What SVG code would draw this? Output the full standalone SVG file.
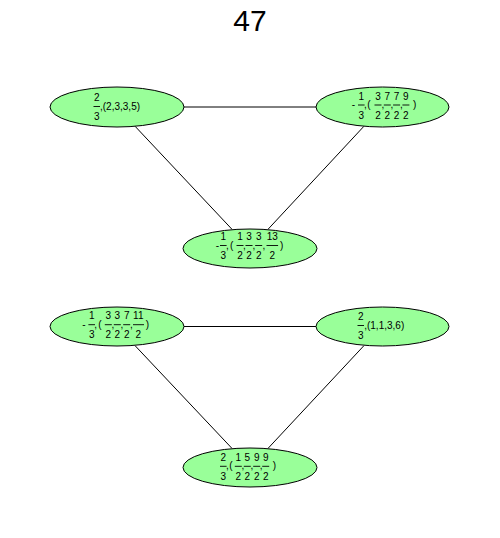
<svg xmlns="http://www.w3.org/2000/svg" width="500" height="538" viewBox="0 0 500 538">
<style>
.node ellipse{fill:#99ff99;stroke:#000;stroke-width:1}
text{font-family:"Liberation Sans",Arial,sans-serif;font-size:10px;fill:#000}
.c{text-anchor:middle}
.bar{stroke:#000;stroke-width:0.9;fill:none}
.edge{stroke:#000;stroke-width:1;fill:none}
.title{font-size:30px;text-anchor:middle}
</style>
<rect width="500" height="538" fill="#fff"/>
<text class="title" x="250" y="31">47</text>
<g id="edges">
<path class="edge" d="M184 107H316"/>
<path class="edge" d="M135.1 126.3L231.9 229.2"/>
<path class="edge" d="M363.9 126.3L268.1 229.2"/>
<path class="edge" d="M184 326.5H316"/>
<path class="edge" d="M135.1 345.7L231.9 448.3"/>
<path class="edge" d="M363.9 345.7L268.1 448.3"/>
</g>
<g id="n1" class="node">
<ellipse cx="117" cy="107" rx="67" ry="20"/>
<text class="c" x="96.7" y="101">2</text>
<path class="bar" d="M93.5 106.5H100"/>
<text class="c" x="96.7" y="120">3</text>
<text x="100" y="109.5">,(2,3,3,5)</text>
</g>
<g id="n2" class="node">
<ellipse cx="382.5" cy="107" rx="66.5" ry="20"/>
<text class="c" x="353.3" y="108">-</text>
<text class="c" x="361.3" y="99.5">1</text><path class="bar" d="M358 105H364.6"/><text class="c" x="361.3" y="118.5">3</text>
<text class="c" x="365.3" y="108">,</text><text class="c" x="369" y="108">(</text>
<text class="c" x="378" y="99.5">3</text><path class="bar" d="M374.5 105H381.5"/><text class="c" x="378" y="118.5">2</text>
<text class="c" x="382.8" y="108">,</text>
<text class="c" x="387.3" y="99.5">7</text><path class="bar" d="M383.8 105H390.8"/><text class="c" x="387.3" y="118.5">2</text>
<text class="c" x="392" y="108">,</text>
<text class="c" x="396.6" y="99.5">7</text><path class="bar" d="M393.1 105H400.1"/><text class="c" x="396.6" y="118.5">2</text>
<text class="c" x="401.3" y="108">,</text>
<text class="c" x="405.9" y="99.5">9</text><path class="bar" d="M402.4 105H409.4"/><text class="c" x="405.9" y="118.5">2</text>
<text class="c" x="414.7" y="108">)</text>
</g>
<g id="n3" class="node">
<ellipse cx="250" cy="248.5" rx="67" ry="19.5"/>
<text class="c" x="217.3" y="248.5">-</text>
<text class="c" x="223.3" y="240">1</text><path class="bar" d="M220 245.5H226.6"/><text class="c" x="223.3" y="259">3</text>
<text class="c" x="227.3" y="248.5">,</text><text class="c" x="231.7" y="248.5">(</text>
<text class="c" x="240" y="240">1</text><path class="bar" d="M236.5 245.5H243.5"/><text class="c" x="240" y="259">2</text>
<text class="c" x="244.5" y="248.5">,</text>
<text class="c" x="249" y="240">3</text><path class="bar" d="M245.5 245.5H252.5"/><text class="c" x="249" y="259">2</text>
<text class="c" x="254" y="248.5">,</text>
<text class="c" x="258.7" y="240">3</text><path class="bar" d="M255.2 245.5H262.2"/><text class="c" x="258.7" y="259">2</text>
<text class="c" x="264" y="248.5">,</text>
<text class="c" x="272.3" y="240">13</text><path class="bar" d="M266.5 245.5H278.1"/><text class="c" x="272.3" y="259">2</text>
<text class="c" x="281.7" y="248.5">)</text>
</g>
<g id="n4" class="node">
<ellipse cx="117" cy="326.5" rx="67" ry="19.5"/>
<text class="c" x="84" y="328">-</text>
<text class="c" x="91.7" y="319.2">1</text><path class="bar" d="M88.4 324.7H95"/><text class="c" x="91.7" y="338.2">3</text>
<text class="c" x="95.7" y="328">,</text><text class="c" x="100" y="328">(</text>
<text class="c" x="108.3" y="319.2">3</text><path class="bar" d="M104.8 324.7H111.8"/><text class="c" x="108.3" y="338.2">2</text>
<text class="c" x="112.8" y="328">,</text>
<text class="c" x="117.3" y="319.2">3</text><path class="bar" d="M113.8 324.7H120.8"/><text class="c" x="117.3" y="338.2">2</text>
<text class="c" x="122" y="328">,</text>
<text class="c" x="126.7" y="319.2">7</text><path class="bar" d="M123.2 324.7H130.2"/><text class="c" x="126.7" y="338.2">2</text>
<text class="c" x="131.5" y="328">,</text>
<text class="c" x="138.3" y="319.2">11</text><path class="bar" d="M133 324.7H144"/><text class="c" x="138.3" y="338.2">2</text>
<text class="c" x="147.5" y="328">)</text>
</g>
<g id="n5" class="node">
<ellipse cx="382.5" cy="326.5" rx="66.5" ry="19.5"/>
<text class="c" x="360.7" y="320">2</text>
<path class="bar" d="M357.5 325.5H364"/>
<text class="c" x="360.7" y="339">3</text>
<text x="364.2" y="328.5">,(1,1,3,6)</text>
</g>
<g id="n6" class="node">
<ellipse cx="250" cy="467.5" rx="67" ry="19.5"/>
<text class="c" x="223.3" y="460.8">2</text><path class="bar" d="M220 466.3H226.6"/><text class="c" x="223.3" y="479.8">3</text>
<text class="c" x="227.3" y="469.3">,</text><text class="c" x="231" y="469.3">(</text>
<text class="c" x="238.3" y="460.8">1</text><path class="bar" d="M234.8 466.3H241.8"/><text class="c" x="238.3" y="479.8">2</text>
<text class="c" x="242.8" y="469.3">,</text>
<text class="c" x="247.3" y="460.8">5</text><path class="bar" d="M243.8 466.3H250.8"/><text class="c" x="247.3" y="479.8">2</text>
<text class="c" x="252" y="469.3">,</text>
<text class="c" x="256.7" y="460.8">9</text><path class="bar" d="M253.2 466.3H260.2"/><text class="c" x="256.7" y="479.8">2</text>
<text class="c" x="261.2" y="469.3">,</text>
<text class="c" x="265.7" y="460.8">9</text><path class="bar" d="M262.2 466.3H269.2"/><text class="c" x="265.7" y="479.8">2</text>
<text class="c" x="274.3" y="469.3">)</text>
</g>
</svg>
